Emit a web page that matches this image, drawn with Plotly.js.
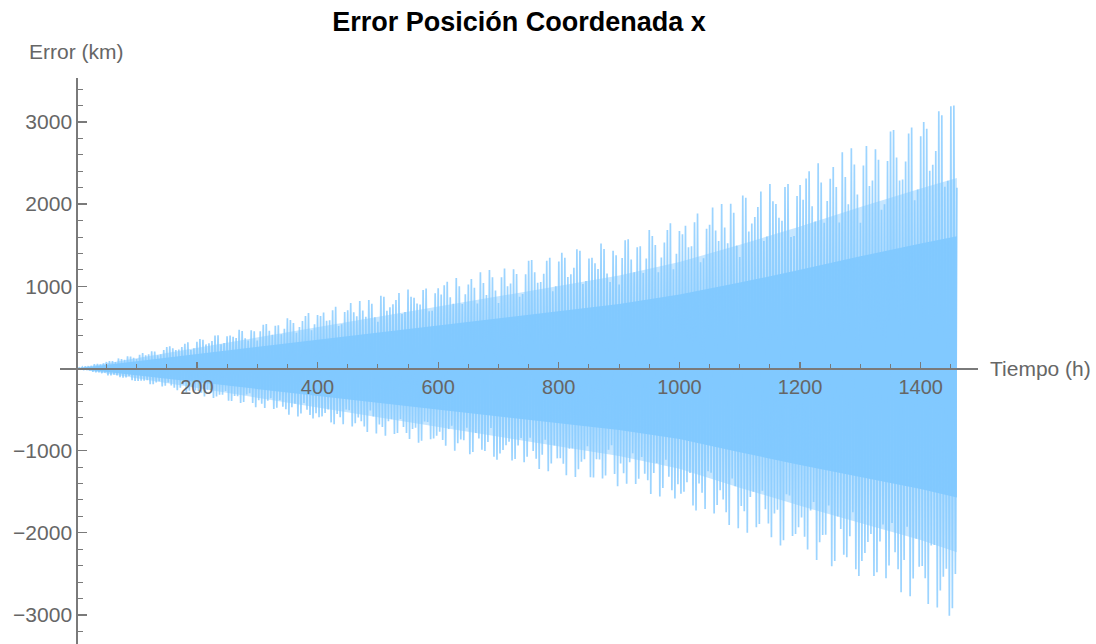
<!DOCTYPE html>
<html>
<head>
<meta charset="utf-8">
<script src="https://cdn.plot.ly/plotly-3.0.1.min.js"></script>
<style>html,body{margin:0;padding:0;background:#fff;}#chart{width:1096px;height:644px;}</style>
</head>
<body>
<div id="chart"></div>
<script>
const TOP_STEP_H = 5;         // top peaks at t = 0, 5, 10, ... h
const BOTTOM_OFFSET_H = 2.5;  // bottom peaks at t = 2.5, 7.5, 12.5, ... h
const topPeaks = [
  0,8,17,25,28,32,52,55,49,63,79,91,89,78,122,115,105,149,145,129,
  114,166,189,161,172,208,205,160,172,224,262,271,246,225,232,260,302,318,226,246,
  326,359,349,293,308,335,402,403,294,309,393,401,387,371,472,457,368,339,466,454,
  341,454,531,540,459,410,519,527,417,483,612,590,554,435,505,577,638,674,464,539,
  651,638,681,581,588,707,752,517,539,686,708,796,684,635,822,706,630,832,788,624,
  569,884,874,703,746,781,834,917,662,687,962,874,862,791,778,956,974,696,702,916,
  977,900,1014,1054,868,788,1102,1000,784,903,1023,1089,982,792,1172,1039,893,1199,1110,948,
  796,1111,1217,1001,1033,1206,1149,874,906,1148,1312,1321,1170,1044,1051,1153,1310,1347,940,1002,
  1302,1409,1346,1112,1148,1227,1452,1432,1029,1065,1338,1346,1279,1211,1522,1454,1155,1053,1432,1378,
  1021,1345,1561,1573,1325,1172,1475,1486,1163,1339,1685,1612,1503,1170,1350,1534,1684,1766,1208,1395,
  1674,1634,1738,1475,1486,1779,1887,1293,1341,1699,1750,1960,1678,1551,2003,1715,1524,2006,1896,1495,
  1358,2106,2079,1667,1765,1843,1965,2155,1550,1606,2245,2035,2003,1834,1799,2207,2244,1601,1611,2099,
  2232,2054,2311,2401,1973,1788,2499,2264,1772,2039,2308,2453,2208,1778,2631,2330,1998,2681,2481,2117,
  1774,2471,2706,2222,2289,2668,2541,1931,1998,2526,2885,2901,2566,2287,2299,2519,2859,2934,2046,2178,
  2827,3000,2917,2406,2480,2648,3130,3082,2212,2286,3190,3200,2200
];
const bottomPeaks = [
  -3,-7,-19,-18,-25,-40,-47,-48,-58,-50,-84,-85,-74,-83,-107,-112,-108,-90,-144,-152,
  -151,-148,-148,-144,-190,-190,-170,-156,-219,-209,-171,-206,-234,-264,-235,-196,-292,-272,-228,-268,
  -275,-295,-340,-258,-263,-360,-342,-320,-318,-274,-392,-396,-336,-339,-419,-409,-316,-301,-421,-472,
  -387,-429,-480,-393,-361,-494,-479,-386,-466,-497,-564,-471,-429,-584,-548,-420,-502,-567,-609,-544,
  -592,-583,-541,-498,-656,-680,-554,-592,-680,-498,-507,-706,-666,-595,-643,-707,-772,-512,-583,-792,
  -683,-711,-820,-643,-619,-798,-784,-616,-712,-785,-857,-737,-720,-904,-879,-644,-652,-861,-853,-819,
  -771,-871,-941,-738,-697,-1000,-911,-864,-874,-722,-1044,-1017,-784,-851,-990,-1004,-895,-723,-1075,-1112,
  -1034,-993,-935,-892,-1121,-1102,-938,-847,-1140,-1073,-843,-1003,-1098,-1224,-1051,-868,-1252,-1156,-938,-1094,
  -1091,-1159,-1300,-978,-974,-1320,-1225,-1136,-1105,-946,-1323,-1327,-1104,-1107,-1340,-1302,-988,-935,-1285,-1432,
  -1155,-1274,-1402,-1142,-1033,-1406,-1343,-1077,-1282,-1361,-1528,-1272,-1150,-1559,-1454,-1110,-1317,-1482,-1583,-1408,
  -1525,-1499,-1385,-1272,-1668,-1727,-1401,-1512,-1711,-1252,-1269,-1765,-1660,-1481,-1594,-1750,-1906,-1339,-1433,-1944,
  -1673,-1738,-1998,-1564,-1501,-1933,-1893,-1487,-1712,-1886,-2054,-1764,-1718,-2155,-2091,-1530,-1546,-2038,-2014,-1931,
  -1814,-2047,-2203,-1727,-1626,-2330,-2116,-2028,-2022,-1669,-2407,-2342,-1802,-1954,-2266,-2297,-2043,-1749,-2443,-2526,
  -2343,-2247,-2112,-2014,-2525,-2480,-2105,-1899,-2553,-2399,-1881,-2236,-2444,-2722,-2332,-1925,-2771,-2556,-2071,-2413,
  -2405,-2554,-2865,-2155,-2147,-2910,-2702,-2534,-2438,-3010,-2919,-2500
];
// Dense core and intermediate band of the oscillation (km)
const bandTimes = [0,100,200,300,400,500,600,700,800,900,1000,1100,1200,1300,1400,1460];
const coreUpper = [0,88,175,263,350,438,525,613,700,785,900,1045,1200,1365,1520,1610];
const coreLower = [0,-83,-166,-250,-333,-416,-499,-582,-666,-749,-858,-1019,-1175,-1321,-1466,-1570];
const midUpper  = [0,126,252,378,504,630,756,882,1008,1130,1296,1505,1728,1966,2189,2318];
const midLower  = [0,-118,-237,-355,-474,-592,-710,-829,-947,-1066,-1221,-1450,-1672,-1880,-2087,-2235];

const xTickVals = [200,400,600,800,1000,1200,1400];
const xTickText = ['200','400','600','800','1000','1200','1400'];
const yTickVals = [-3000,-2000,-1000,1000,2000,3000];
const yTickText = ['\u22123000','\u22122000','\u22121000','1000','2000','3000'];

// zigzag between top and bottom peaks
const zx = [], zy = [];
for (let i = 0; i < topPeaks.length; i++) {
  zx.push(i * TOP_STEP_H); zy.push(topPeaks[i]);
  if (i < bottomPeaks.length) { zx.push(i * TOP_STEP_H + BOTTOM_OFFSET_H); zy.push(bottomPeaks[i]); }
}
function band(up, lo) {
  return {x: bandTimes.concat(bandTimes.slice().reverse()), y: up.concat(lo.slice().reverse())};
}
const core = band(coreUpper, coreLower);
const mid = band(midUpper, midLower);

const xr = [-27, 1495], yr = [-3353, 3535];
const yZeroFrac = (0 - yr[0]) / (yr[1] - yr[0]);
const xZeroFrac = (0 - xr[0]) / (xr[1] - xr[0]);
const FONT = 'Liberation Sans, Arial, sans-serif';
const axisCol = '#7a7a7a', labCol = '#666666';

const traces = [
  {x: mid.x, y: mid.y, type: 'scatter', mode: 'lines', fill: 'toself',
   fillcolor: 'rgba(128,200,255,0.45)', line: {width: 0}, hoverinfo: 'skip', showlegend: false},
  {x: core.x, y: core.y, type: 'scatter', mode: 'lines', fill: 'toself',
   fillcolor: 'rgb(133,203,255)', line: {width: 0}, hoverinfo: 'skip', showlegend: false},
  {x: zx, y: zy, type: 'scatter', mode: 'lines',
   line: {color: 'rgba(128,200,255,0.78)', width: 1.7}, showlegend: false}
];

const layout = {
  width: 1096, height: 644,
  margin: {l: 60, r: 118, t: 78, b: 0, pad: 0},
  paper_bgcolor: '#fff', plot_bgcolor: '#fff',
  showlegend: false,
  title: {text: '<b>Error Posición Coordenada x</b>', x: 0.5, xref: 'paper',
          y: 1 - 22/644, yref: 'container', yanchor: 'middle',
          font: {family: FONT, size: 27, color: '#000'}},
  xaxis: {range: xr, anchor: 'free', position: yZeroFrac, showgrid: false, zeroline: false,
          showline: true, linecolor: axisCol, linewidth: 1.3,
          tickmode: 'array', tickvals: xTickVals, ticktext: xTickText,
          ticks: 'inside', ticklen: 6, tickwidth: 1.3, tickcolor: axisCol,
          tickfont: {family: FONT, size: 20, color: labCol},
          minor: {tickmode: 'linear', tick0: 0, dtick: 50, ticks: 'inside', ticklen: 4, tickwidth: 1, tickcolor: axisCol, showgrid: false}},
  yaxis: {range: yr, anchor: 'free', position: xZeroFrac, showgrid: false, zeroline: false,
          showline: true, linecolor: axisCol, linewidth: 1.3,
          tickmode: 'array', tickvals: yTickVals, ticktext: yTickText,
          ticks: 'inside', ticklen: 9, tickwidth: 1.3, tickcolor: axisCol,
          tickfont: {family: FONT, size: 21, color: labCol},
          minor: {tickmode: 'linear', tick0: 0, dtick: 200, ticks: 'inside', ticklen: 5, tickwidth: 1, tickcolor: axisCol, showgrid: false}},
  annotations: [
    {text: 'Error (km)', xref: 'paper', yref: 'paper', x: xZeroFrac, y: (644-52)/566,
     xanchor: 'center', yanchor: 'middle', showarrow: false,
     font: {family: FONT, size: 21, color: labCol}},
    {text: 'Tiempo (h)', xref: 'paper', yref: 'paper', x: (988-60)/918, y: yZeroFrac,
     xanchor: 'left', yanchor: 'middle', showarrow: false,
     font: {family: FONT, size: 21, color: labCol}}
  ]
};
Plotly.newPlot('chart', traces, layout, {displayModeBar: false, staticPlot: true});
</script>
</body>
</html>
